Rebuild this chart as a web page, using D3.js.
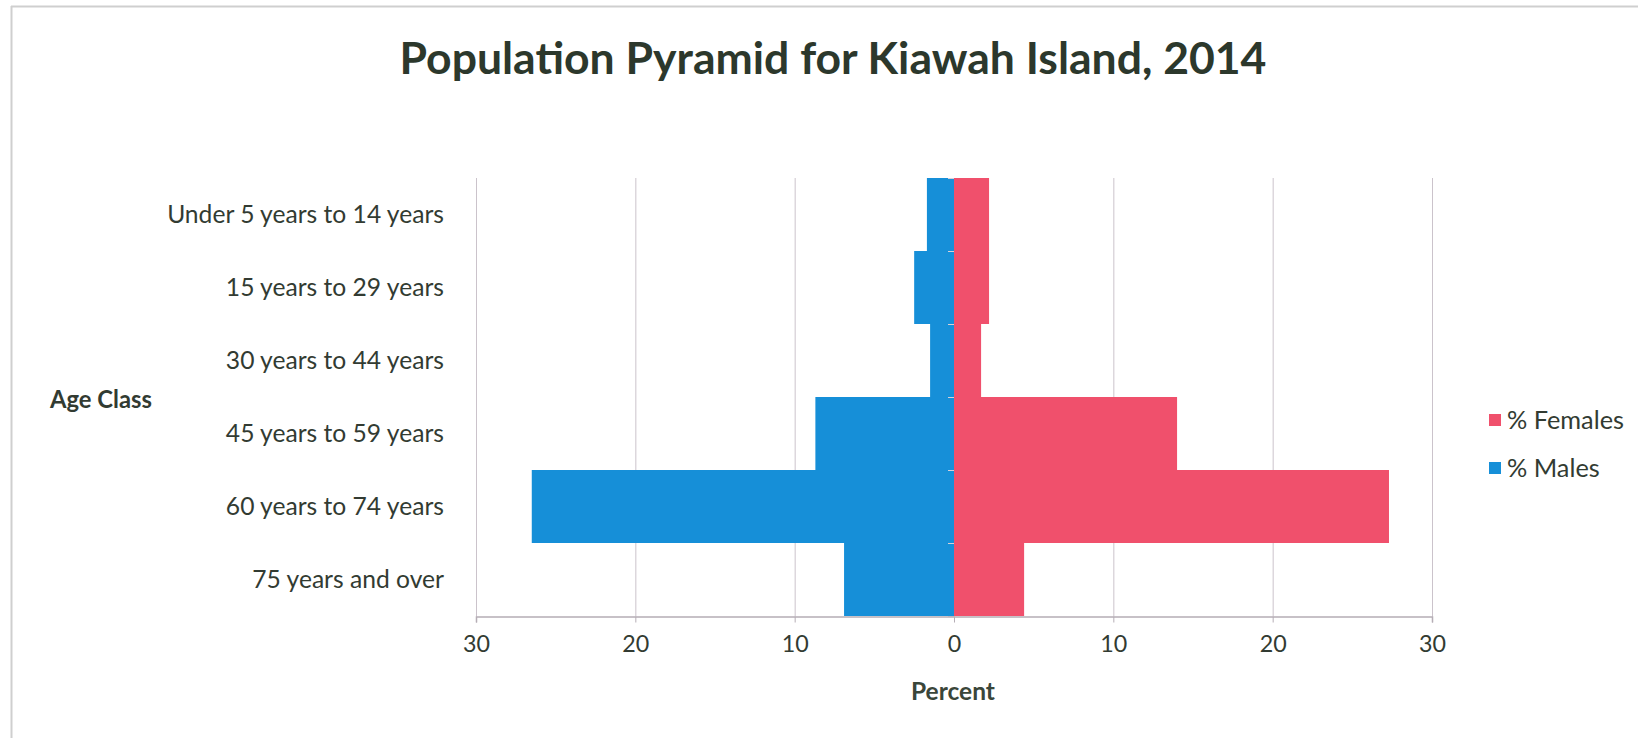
<!DOCTYPE html>
<html>
<head>
<meta charset="utf-8">
<script src="https://cdn.jsdelivr.net/npm/d3@7"></script>
<style>
  html, body { margin: 0; padding: 0; background: #ffffff; }
  svg { display: block; }
</style>
</head>
<body>
<svg id="chart" width="1638" height="738"></svg>
<script>
// Age classes, top to bottom
const ageClasses = [
  "Under 5 years to 14 years",
  "15 years to 29 years",
  "30 years to 44 years",
  "45 years to 59 years",
  "60 years to 74 years",
  "75 years and over"
];
// Share of the population (%) in each age class
const malesPct   = [1.7, 2.5, 1.5, 8.7, 26.5, 6.9];
const femalesPct = [2.2, 2.2, 1.7, 14.0, 27.3, 4.4];
// Axis ticks (drawn as absolute values on both sides)
const xTicks = [-30, -20, -10, 0, 10, 20, 30];
const seriesNames = ["% Females", "% Males"];

const titleText = "Population Pyramid for Kiawah Island, 2014";
const xTitle = "Percent";
const yTitle = "Age Class";

const colors = { "% Females": "#f0506c", "% Males": "#168fd8" };
const textDark = "#323b32";
const gridColor = "#cbc3cb";

const svg = d3.select("#chart");
const FONT = "Lato, 'Open Sans', sans-serif";

const plot = { left: 476, right: 1432, top: 178, bottom: 616 };

const x = d3.scaleLinear().domain([-30, 30]).range([plot.left, plot.right]);
const y = d3.scaleBand().domain(ageClasses).range([plot.top, plot.bottom]).padding(0);

// Scale a text selection's font size so a sample string spans the given width
function fitFont(sel, sample, width, weight) {
  const probe = svg.append("text").attr("font-family", FONT)
    .attr("font-weight", weight).attr("font-size", 20).text(sample);
  const w = probe.node().getComputedTextLength();
  probe.remove();
  const size = 20 * width / w;
  sel.attr("font-size", size);
  return size;
}

// Outer frame of the chart object
svg.append("line").attr("x1", 11).attr("x2", 1638).attr("y1", 6.5).attr("y2", 6.5)
  .attr("stroke", "#cfcfcf").attr("stroke-width", 2);
svg.append("line").attr("x1", 11.5).attr("x2", 11.5).attr("y1", 6).attr("y2", 738)
  .attr("stroke", "#cfcfcf").attr("stroke-width", 2);

// Title
const title = svg.append("text")
  .attr("x", 833).attr("y", 74)
  .attr("text-anchor", "middle")
  .attr("font-family", FONT).attr("font-weight", 700)
  .attr("fill", "#2c382c")
  .text(titleText);
fitFont(title, titleText, 867, 700);

// Vertical gridlines
svg.append("g").selectAll("line").data(xTicks).join("line")
  .attr("x1", d => x(d) + 0.5).attr("x2", d => x(d) + 0.5)
  .attr("y1", plot.top).attr("y2", plot.bottom)
  .attr("stroke", gridColor).attr("stroke-width", 1);

// Bars: males extend left, females right
const bars = svg.append("g");
bars.selectAll("rect.male").data(ageClasses).join("rect")
  .attr("class", "male")
  .attr("x", (d, i) => x(-malesPct[i]))
  .attr("width", (d, i) => x(0) - x(-malesPct[i]))
  .attr("y", d => y(d))
  .attr("height", y.bandwidth())
  .attr("fill", colors["% Males"]);
bars.selectAll("rect.female").data(ageClasses).join("rect")
  .attr("class", "female")
  .attr("x", x(0))
  .attr("width", (d, i) => x(femalesPct[i]) - x(0))
  .attr("y", d => y(d))
  .attr("height", y.bandwidth())
  .attr("fill", colors["% Females"]);

// Category tick marks on the zero axis
const bounds = ageClasses.map(d => y(d)).concat([plot.bottom]);
svg.append("g").selectAll("line").data(bounds).join("line")
  .attr("x1", x(0) - 6).attr("x2", x(0))
  .attr("y1", d => d + 0.5).attr("y2", d => d + 0.5)
  .attr("stroke", "#d8d0d8").attr("stroke-width", 1);

// Bottom axis
const xAxis = d3.axisBottom(x)
  .tickValues(xTicks)
  .tickFormat(d => Math.abs(d))
  .tickSize(6)
  .tickPadding(13);
const gx = svg.append("g")
  .attr("transform", `translate(0,${plot.bottom + 0.5})`)
  .call(xAxis);
gx.select(".domain").attr("stroke", "#b5adb5").attr("stroke-width", 1.5);
gx.selectAll(".tick line").attr("stroke", "#b5adb5");
gx.selectAll(".tick text")
  .attr("font-family", FONT).attr("fill", textDark);
fitFont(gx.selectAll(".tick text"), "20", 27, 400);

// Category labels, right-aligned against the plot
const yLabels = svg.append("g").selectAll("text").data(ageClasses).join("text")
  .attr("x", 444)
  .attr("y", d => y(d) + y.bandwidth() / 2)
  .attr("dy", "0.35em")
  .attr("text-anchor", "end")
  .attr("font-family", FONT).attr("fill", textDark)
  .text(d => d);
fitFont(yLabels, ageClasses[0], 277, 400);

// Axis titles
const xt = svg.append("text")
  .attr("x", 953).attr("y", 691).attr("dy", "0.35em")
  .attr("text-anchor", "middle")
  .attr("font-family", FONT).attr("font-weight", 700).attr("fill", "#3a463a")
  .text(xTitle);
fitFont(xt, xTitle, 84, 700);

const yt = svg.append("text")
  .attr("x", 50).attr("y", 400).attr("dy", "0.35em")
  .attr("font-family", FONT).attr("font-weight", 700).attr("fill", textDark)
  .text(yTitle);
fitFont(yt, yTitle, 102, 700);

// Legend
const legend = svg.append("g");
const legendY = [420, 468];
seriesNames.forEach((name, i) => {
  legend.append("rect")
    .attr("x", 1489).attr("y", legendY[i] - 6)
    .attr("width", 12).attr("height", 12)
    .attr("fill", colors[name]);
  legend.append("text")
    .attr("class", "legend-label")
    .attr("x", 1507).attr("y", legendY[i]).attr("dy", "0.35em")
    .attr("font-family", FONT).attr("fill", textDark)
    .text(name);
});
fitFont(legend.selectAll(".legend-label"), "% Females", 117, 400);
</script>
</body>
</html>
